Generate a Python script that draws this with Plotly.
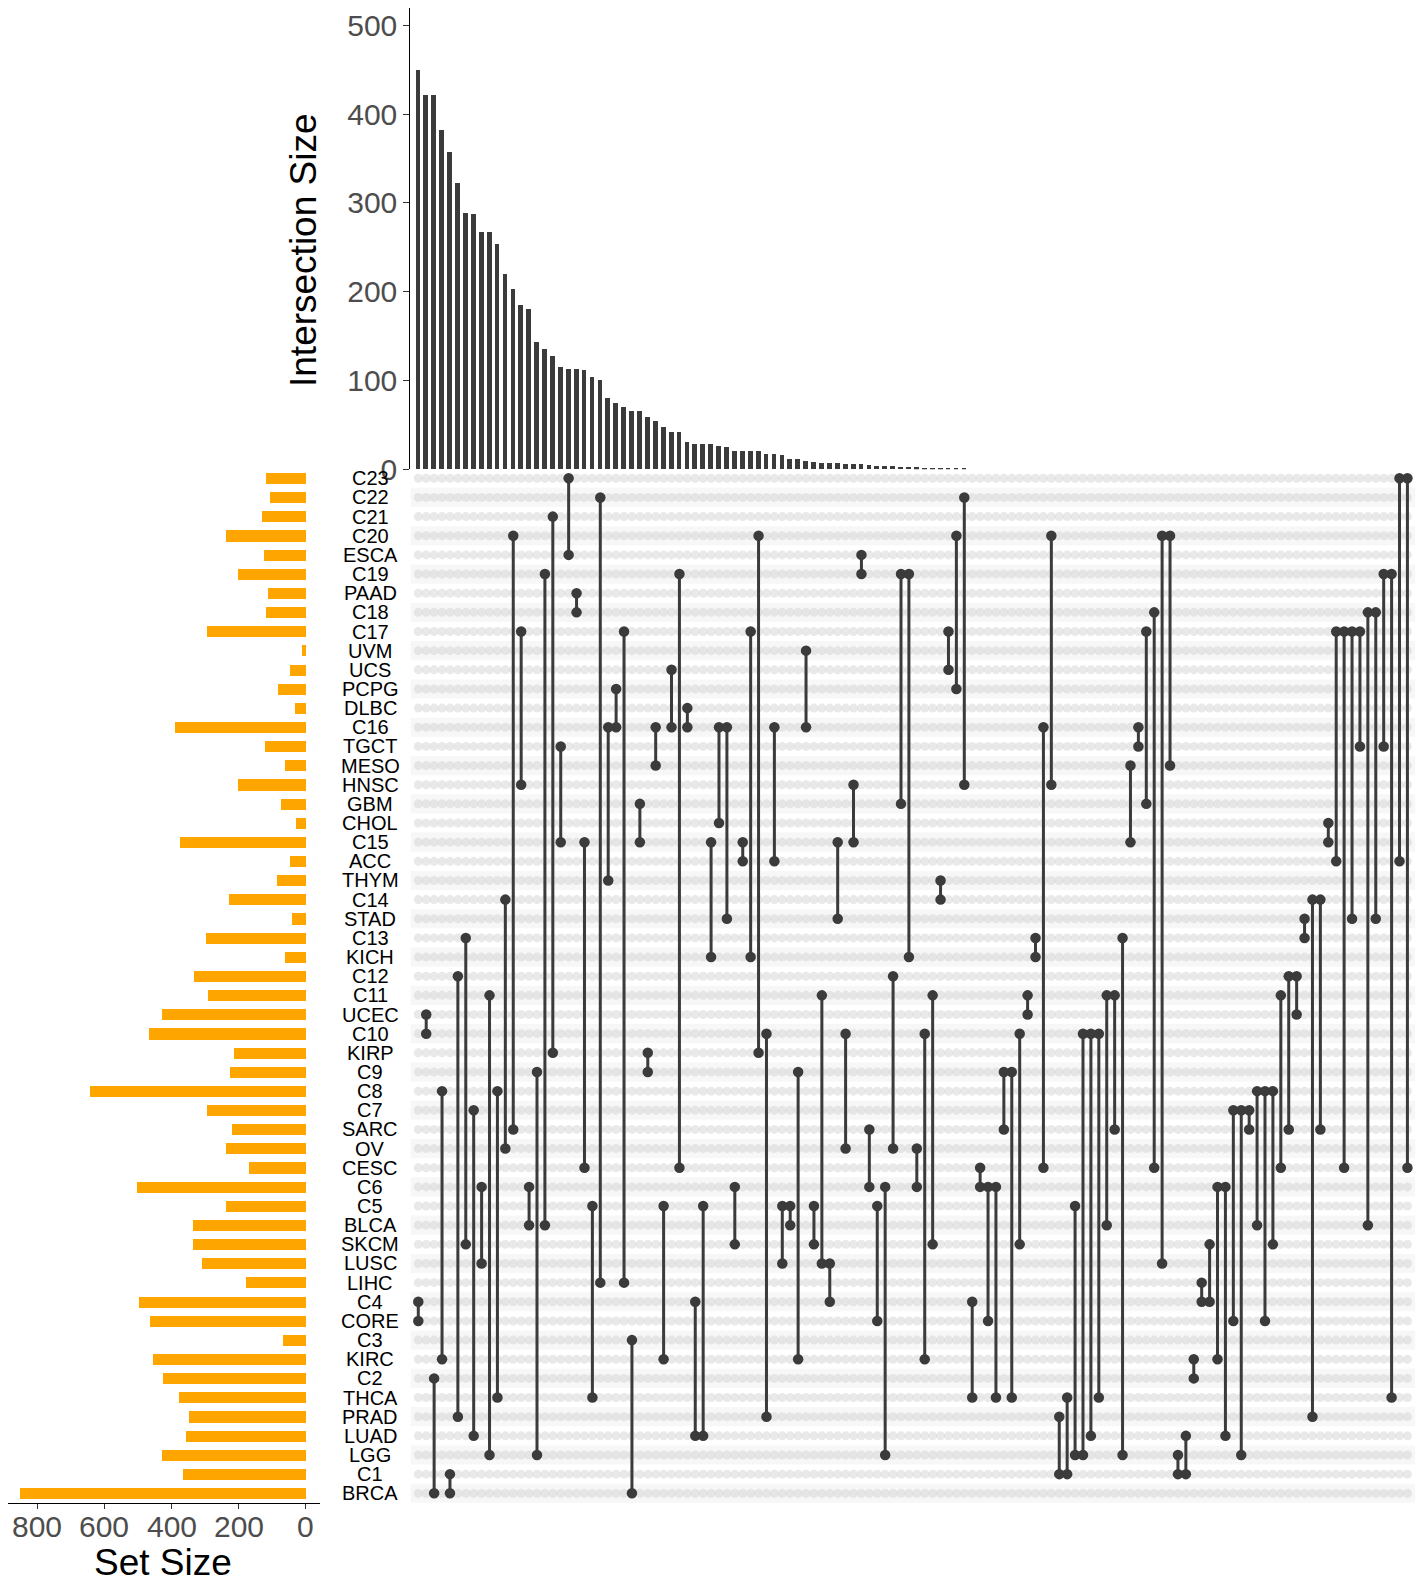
import plotly.graph_objects as go

# ---------------- data ----------------
sets = ["C23", "C22", "C21", "C20", "ESCA", "C19", "PAAD", "C18", "C17", "UVM",
        "UCS", "PCPG", "DLBC", "C16", "TGCT", "MESO", "HNSC", "GBM", "CHOL", "C15",
        "ACC", "THYM", "C14", "STAD", "C13", "KICH", "C12", "C11", "UCEC", "C10",
        "KIRP", "C9", "C8", "C7", "SARC", "OV", "CESC", "C6", "C5", "BLCA",
        "SKCM", "LUSC", "LIHC", "C4", "CORE", "C3", "KIRC", "C2", "THCA", "PRAD",
        "LUAD", "LGG", "C1", "BRCA"]

set_sizes = [118, 107, 130, 239, 124, 201, 114, 119, 294, 12,
             48, 82, 33, 390, 123, 61, 202, 75, 29, 376,
             46, 87, 228, 40, 297, 63, 332, 292, 429, 466,
             215, 226, 643, 293, 220, 239, 170, 504, 239, 337,
             335, 309, 178, 498, 464, 68, 455, 425, 377, 347,
             357, 429, 365, 852]

intersections = [
    ("C4", "CORE"), ("UCEC", "C10"), ("C2", "BRCA"), ("C8", "KIRC"), ("C1", "BRCA"),
    ("C12", "PRAD"), ("C13", "SKCM"), ("C7", "LUAD"), ("C6", "LUSC"), ("C11", "LGG"),
    ("C8", "THCA"), ("C14", "OV"), ("C20", "SARC"), ("C17", "HNSC"), ("C6", "BLCA"),
    ("C9", "LGG"), ("C19", "BLCA"), ("C21", "KIRP"), ("TGCT", "C15"), ("C23", "ESCA"),
    ("PAAD", "C18"), ("C15", "CESC"), ("C5", "THCA"), ("C22", "LIHC"), ("C16", "THYM"),
    ("PCPG", "C16"), ("C17", "LIHC"), ("C3", "BRCA"), ("GBM", "C15"), ("KIRP", "C9"),
    ("C16", "MESO"), ("C5", "KIRC"), ("UCS", "C16"), ("C19", "CESC"), ("DLBC", "C16"),
    ("C4", "LUAD"), ("C5", "LUAD"), ("C15", "KICH"), ("C16", "CHOL"), ("C16", "STAD"),
    ("C6", "SKCM"), ("C15", "ACC"), ("C17", "KICH"), ("C20", "KIRP"), ("C10", "PRAD"),
    ("C16", "ACC"), ("C5", "LUSC"), ("C5", "BLCA"), ("C9", "KIRC"), ("UVM", "C16"),
    ("C5", "SKCM"), ("C11", "LUSC"), ("LUSC", "C4"), ("C15", "STAD"), ("C10", "OV"),
    ("HNSC", "C15"), ("ESCA", "C19"), ("SARC", "C6"), ("C5", "CORE"), ("C6", "LGG"),
    ("C12", "OV"), ("C19", "GBM"), ("C19", "KICH"), ("OV", "C6"), ("C10", "KIRC"),
    ("C11", "SKCM"), ("THYM", "C14"), ("C17", "UCS"), ("C20", "PCPG"), ("C22", "HNSC"),
    ("C4", "THCA"), ("CESC", "C6"), ("C6", "CORE"), ("C6", "THCA"), ("C9", "SARC"),
    ("C9", "THCA"), ("C10", "SKCM"), ("C11", "UCEC"), ("C13", "KICH"), ("C16", "CESC"),
    ("C20", "HNSC"), ("PRAD", "C1"), ("THCA", "C1"), ("C5", "LGG"), ("C10", "LGG"),
    ("C10", "LUAD"), ("C10", "THCA"), ("C11", "BLCA"), ("C11", "SARC"), ("C13", "LGG"),
    ("MESO", "C15"), ("C16", "TGCT"), ("C17", "GBM"), ("C18", "CESC"), ("C20", "LUSC"),
    ("C20", "MESO"), ("LGG", "C1"), ("LUAD", "C1"), ("KIRC", "C2"), ("LIHC", "C4"),
    ("SKCM", "C4"), ("C6", "KIRC"), ("C6", "LUAD"), ("C7", "CORE"), ("C7", "LGG"),
    ("C7", "SARC"), ("C8", "BLCA"), ("C8", "CORE"), ("C8", "SKCM"), ("C11", "CESC"),
    ("C12", "SARC"), ("C12", "UCEC"), ("STAD", "C13"), ("C14", "PRAD"), ("C14", "SARC"),
    ("CHOL", "C15"), ("C17", "ACC"), ("C17", "CESC"), ("C17", "STAD"), ("C17", "TGCT"),
    ("C18", "BLCA"), ("C18", "STAD"), ("C19", "TGCT"), ("C19", "THCA"), ("C23", "ACC"),
    ("C23", "CESC"),
]

intersection_sizes = [
    450, 421, 421, 382, 357, 322, 289, 288, 267, 267,
    254, 220, 203, 185, 180, 143, 135, 128, 115, 113,
    113, 112, 104, 101, 80, 75, 70, 65, 65, 59,
    54, 48, 42, 42, 31, 28, 28, 28, 26, 25,
    21, 21, 21, 21, 17, 17, 16, 11, 11, 9,
    8, 7, 7, 7, 6, 6, 6, 5, 4, 4,
    4, 3, 3, 2, 1, 1, 1, 1, 1, 1,
    0, 0, 0, 0, 0, 0, 0, 0, 0, 0,
    0, 0, 0, 0, 0, 0, 0, 0, 0, 0,
    0, 0, 0, 0, 0, 0, 0, 0, 0, 0,
    0, 0, 0, 0, 0, 0, 0, 0, 0, 0,
    0, 0, 0, 0, 0, 0, 0, 0, 0, 0,
    0, 0, 0, 0, 0, 0,
]

size_ticks = [0, 100, 200, 300, 400, 500]
set_ticks = [0, 200, 400, 600, 800]

# ---------------- geometry ----------------
W, H = 1424, 1583
FONT = "Liberation Sans, Arial, Helvetica, sans-serif"
DARK = "#3B3B3B"


def fx(p):
    return p / W


def fy(p):
    return 1 - p / H


n_cols = len(intersections)
n_rows = len(sets)
col_x0, col_dx = 418.3, 7.913
row_y0, row_dy = 478.3, 19.151

x_lo, x_hi = -1, n_cols
mat_left = col_x0 + x_lo * col_dx
mat_right = col_x0 + x_hi * col_dx
mat_top = row_y0 - 0.5 * row_dy
mat_bot = row_y0 + (n_rows - 0.5) * row_dy

row_of = {s: i for i, s in enumerate(sets)}
cols = list(range(n_cols))

fig = go.Figure()

# top intersection-size bars
fig.add_trace(go.Bar(x=[c for c, v in zip(cols, intersection_sizes) if v > 0],
                     y=[v for v in intersection_sizes if v > 0],
                     width=0.6, marker=dict(color=DARK, line=dict(width=0)),
                     xaxis="x", yaxis="y", showlegend=False, hoverinfo="x+y"))

# background (empty) dots of the matrix
bx, by = [], []
for r in range(n_rows):
    for c in cols:
        bx.append(c)
        by.append(r)
fig.add_trace(go.Scatter(x=bx, y=by, mode="markers",
                         marker=dict(size=9, color="rgba(212,212,212,0.5)", line=dict(width=0)),
                         xaxis="x2", yaxis="y2", showlegend=False, hoverinfo="skip"))

# connecting lines
lx, ly = [], []
for c, (a, b) in zip(cols, intersections):
    lx += [c, c, None]
    ly += [row_of[a], row_of[b], None]
fig.add_trace(go.Scatter(x=lx, y=ly, mode="lines", line=dict(color=DARK, width=3),
                         xaxis="x2", yaxis="y2", showlegend=False, hoverinfo="skip"))

# filled dots
dx_, dy_ = [], []
for c, (a, b) in zip(cols, intersections):
    dx_ += [c, c]
    dy_ += [row_of[a], row_of[b]]
fig.add_trace(go.Scatter(x=dx_, y=dy_, mode="markers",
                         marker=dict(size=10.5, color=DARK, line=dict(width=0)),
                         xaxis="x2", yaxis="y2", showlegend=False, hoverinfo="skip"))

# set size bars
fig.add_trace(go.Bar(x=set_sizes, y=list(range(n_rows)), orientation="h", width=0.58,
                     marker=dict(color="#FFA500", line=dict(width=0)),
                     xaxis="x3", yaxis="y3", showlegend=False, hoverinfo="x"))

# shading of alternate rows
shapes = []
for r in range(n_rows):
    if (n_rows - r) % 2 == 1:
        shapes.append(dict(type="rect", xref="x2", yref="y2", x0=x_lo, x1=x_hi,
                           y0=r - 0.5, y1=r + 0.5, fillcolor="#F7F7F7",
                           line=dict(width=0), layer="below"))

tickfont = dict(family=FONT, size=30, color="#4D4D4D")

annotations = []
for r, s in enumerate(sets):
    annotations.append(dict(x=fx(370), xref="paper", y=r, yref="y2", text=s,
                            showarrow=False, xanchor="center", yanchor="middle",
                            font=dict(family=FONT, size=20, color="black")))
# set-size tick labels (placed close to the axis, as in the original)
for t in set_ticks:
    annotations.append(dict(x=t, xref="x3", y=fy(1526), yref="paper", text=str(t),
                            showarrow=False, xanchor="center", yanchor="middle",
                            font=tickfont))
annotations.append(dict(x=fx(303), y=fy(250), xref="paper", yref="paper",
                        text="Intersection Size", textangle=-90, showarrow=False,
                        xanchor="center", yanchor="middle",
                        font=dict(family=FONT, size=37, color="black")))
annotations.append(dict(x=fx(163), y=fy(1562), xref="paper", yref="paper",
                        text="Set Size", showarrow=False,
                        xanchor="center", yanchor="middle",
                        font=dict(family=FONT, size=37, color="black")))

hidden = dict(showticklabels=False, showgrid=False, zeroline=False,
              showline=False, ticks="", automargin=False)

fig.update_layout(
    width=W, height=H, autosize=False, margin=dict(l=0, r=0, t=0, b=0, pad=0),
    paper_bgcolor="white", plot_bgcolor="rgba(0,0,0,0)",
    bargap=0, showlegend=False, shapes=shapes, annotations=annotations,
    font=dict(family=FONT),
    xaxis=dict(domain=[fx(mat_left), fx(mat_right)], range=[x_lo, x_hi],
               anchor="y", **hidden),
    yaxis=dict(domain=[fy(469.2), fy(8)], range=[0, 519.5], anchor="x",
               tickvals=size_ticks, ticks="outside", ticklen=6, tickwidth=1.2,
               tickcolor="#333333", showline=True, linecolor="black", linewidth=1.2,
               showgrid=False, zeroline=False, tickfont=tickfont, automargin=False),
    xaxis2=dict(domain=[fx(mat_left), fx(mat_right)], range=[x_lo, x_hi],
                anchor="y2", **hidden),
    yaxis2=dict(domain=[fy(mat_bot), fy(mat_top)], range=[n_rows - 0.5, -0.5],
                anchor="x2", **hidden),
    xaxis3=dict(domain=[fx(8), fx(320)], range=[887, -42], anchor="y3",
                tickvals=set_ticks, ticks="outside", ticklen=5, tickwidth=1.2,
                tickcolor="#333333", showline=True, linecolor="black", linewidth=1.2,
                showticklabels=False, showgrid=False, zeroline=False, automargin=False),
    yaxis3=dict(domain=[fy(mat_bot), fy(mat_top)], range=[n_rows - 0.5, -0.5],
                anchor="x3", **hidden),
)

fig.write_html("out.html", config={"responsive": False})
